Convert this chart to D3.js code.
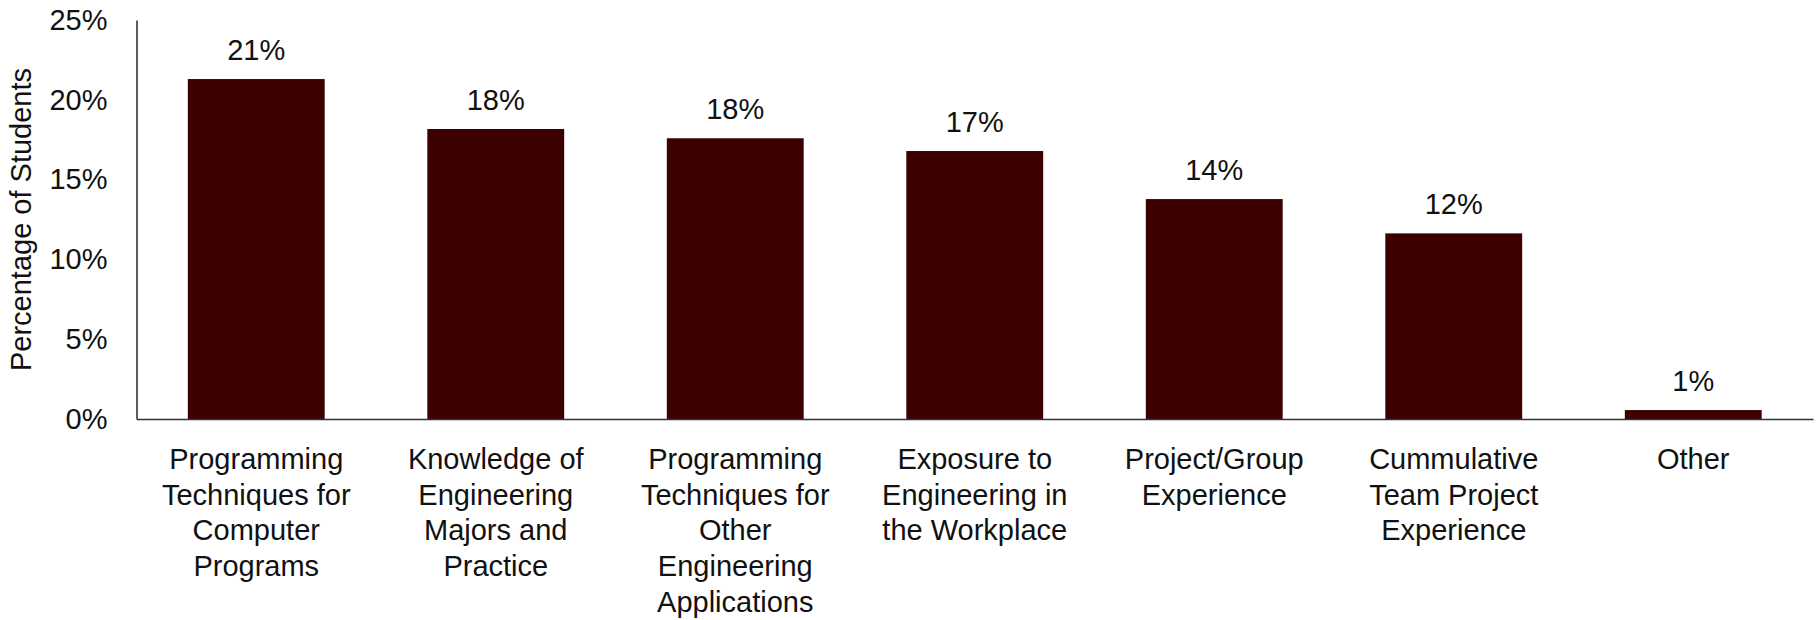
<!DOCTYPE html>
<html>
<head>
<meta charset="utf-8">
<script src="https://cdn.jsdelivr.net/npm/d3@7"></script>
<style>
  html, body { margin: 0; padding: 0; background: #fff; }
  svg { display: block; }
  text { font-family: "Liberation Sans", Arial, sans-serif; fill: #111; }
</style>
</head>
<body>
<svg id="chart" width="1819" height="620"></svg>
<script>
// Survey results: share of students naming each course component
const categories = [
  "Programming\nTechniques for\nComputer\nPrograms",
  "Knowledge of\nEngineering\nMajors and\nPractice",
  "Programming\nTechniques for\nOther\nEngineering\nApplications",
  "Exposure to\nEngineering in\nthe Workplace",
  "Project/Group\nExperience",
  "Cummulative\nTeam Project\nExperience",
  "Other"
];
const values = [0.213, 0.1817, 0.1759, 0.1679, 0.1378, 0.1163, 0.0056];
const yTicks = [0, 0.05, 0.10, 0.15, 0.20, 0.25];
const yTitle = "Percentage of Students";

const svg = d3.select("#chart");
const margin = { left: 136.5, right: 6, top: 20, bottom: 201 };
const W = 1819, H = 620;
const fontSize = 29;
const fontFamily = '"Liberation Sans", Arial, sans-serif';

const x = d3.scaleBand()
  .domain(categories)
  .range([margin.left, W - margin.right])
  .paddingInner(0.75 / 1.75)
  .paddingOuter(0.375 / 1.75);

const y = d3.scaleLinear()
  .domain([0, 0.25])
  .range([H - margin.bottom, margin.top]);

const pct = d3.format(".0%");

// bars
svg.append("g")
  .selectAll("rect")
  .data(values)
  .join("rect")
  .attr("x", (d, i) => x(categories[i]))
  .attr("width", x.bandwidth())
  .attr("y", d => y(d))
  .attr("height", d => y(0) - y(d))
  .attr("fill", "#3c0000");

// value labels
svg.append("g")
  .selectAll("text")
  .data(values)
  .join("text")
  .attr("x", (d, i) => x(categories[i]) + x.bandwidth() / 2)
  .attr("y", d => y(d) - 19)
  .attr("text-anchor", "middle")
  .attr("font-size", fontSize)
  .text(d => pct(d));

// y axis
const yAxis = svg.append("g")
  .attr("transform", `translate(${margin.left},0)`)
  .call(d3.axisLeft(y).tickValues(yTicks).tickFormat(pct).tickSize(0).tickPadding(29));
yAxis.select(".domain").attr("stroke", "#333").attr("stroke-width", 1.6);
yAxis.selectAll("text")
  .attr("font-size", fontSize)
  .attr("font-family", fontFamily)
  .attr("fill", "#111");

// x axis
const xAxis = svg.append("g")
  .attr("transform", `translate(0,${y(0)})`)
  .call(d3.axisBottom(x).tickSize(0).tickFormat(""));
xAxis.select(".domain").attr("stroke", "#333").attr("stroke-width", 1.6);

// multi-line category labels
const lineH = 35.7;
xAxis.selectAll(".tick").each(function(d) {
  const t = d3.select(this).append("text")
    .attr("text-anchor", "middle")
    .attr("font-size", fontSize)
    .attr("font-family", fontFamily)
    .attr("fill", "#111");
  d.split("\n").forEach((line, i) => {
    t.append("tspan").attr("x", 0).attr("y", 50 + i * lineH).text(line);
  });
});

// y axis title
svg.append("text")
  .attr("transform", `translate(31,${(y(0) + y(0.25)) / 2}) rotate(-90)`)
  .attr("text-anchor", "middle")
  .attr("font-size", fontSize)
  .text(yTitle);
</script>
</body>
</html>
